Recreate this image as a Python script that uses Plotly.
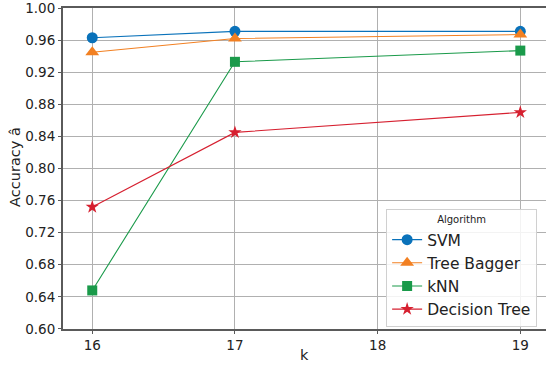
import plotly.graph_objects as go

# Accuracy of each classifier against k
k_values = [16, 17, 19]
svm = [0.963, 0.971, 0.971]
tree_bagger = [0.945, 0.962, 0.967]
knn = [0.648, 0.933, 0.947]
decision_tree = [0.752, 0.845, 0.870]

series = [
    ("SVM", svm, "#0a72ba", "circle", 11),
    ("Tree Bagger", tree_bagger, "#f28022", "triangle-up", 12),
    ("kNN", knn, "#1a9a4a", "square", 10),
    ("Decision Tree", decision_tree, "#d62030", "star", 10),
]

y_ticks = [round(0.60 + 0.04 * i, 2) for i in range(11)]
x_ticks = [16, 17, 18, 19]

fig = go.Figure()
for name, vals, color, symbol, size in series:
    fig.add_trace(go.Scatter(
        x=k_values, y=vals, name=name, mode="lines+markers",
        line=dict(color=color, width=1.1),
        marker=dict(symbol=symbol, size=size, color=color, line=dict(width=0)),
    ))

font_family = "DejaVu Sans, sans-serif"
fig.update_layout(
    width=546, height=370,
    margin=dict(l=63, r=0, t=8, b=41),
    paper_bgcolor="white", plot_bgcolor="white",
    font=dict(family=font_family, size=14, color="#222"),
    xaxis=dict(
        range=[15.795, 19.18], tickvals=x_ticks, ticktext=[str(v) for v in x_ticks],
        showgrid=True, gridcolor="#b0b0b0", gridwidth=1,
        showline=True, linecolor="#5a5a5a", linewidth=2, mirror=True,
        ticks="outside", ticklen=3, tickcolor="#5a5a5a",
        zeroline=False,
        tickfont=dict(size=13.5),
    ),
    yaxis=dict(
        range=[0.5999, 1.0001], tickvals=y_ticks, ticktext=[f"{v:.2f}" for v in y_ticks],
        showgrid=True, gridcolor="#b0b0b0", gridwidth=1,
        showline=True, linecolor="#5a5a5a", linewidth=2,
        ticks="outside", ticklen=3, tickcolor="#5a5a5a",
        zeroline=False, ticklabeloverflow="allow",
        tickfont=dict(size=13.5),
    ),
    legend=dict(
        title=dict(text="Algorithm", font=dict(size=10), side="top center"),
        x=0.669, y=0.006, xanchor="left", yanchor="bottom",
        bgcolor="rgba(255,255,255,0.85)", bordercolor="#d0d0d0", borderwidth=1,
        font=dict(size=15.5), tracegroupgap=0, itemwidth=30,
    ),
    annotations=[
        dict(text="k", xref="paper", yref="paper", x=0.5, y=-0.081,
             xanchor="center", yanchor="middle", showarrow=False,
             font=dict(size=14.5)),
        dict(text="Accuracy â", xref="paper", yref="paper", x=-0.0994, y=0.505,
             xanchor="center", yanchor="middle", textangle=-90, showarrow=False,
             font=dict(size=14.5)),
    ],
)

fig.write_html("out.html")
